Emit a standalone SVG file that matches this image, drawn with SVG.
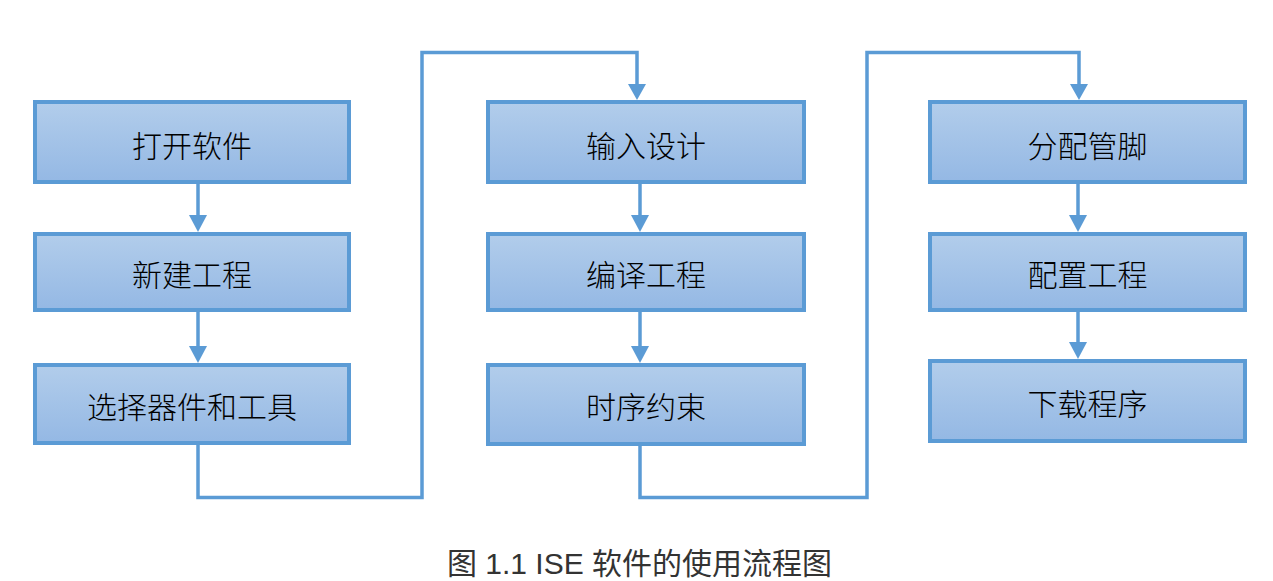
<svg xmlns="http://www.w3.org/2000/svg" width="1273" height="581" viewBox="0 0 1273 581">
  <defs>
    <linearGradient id="g" x1="0" y1="0" x2="0" y2="1">
      <stop offset="0" stop-color="#b2cdeb"/>
      <stop offset="1" stop-color="#94b8e4"/>
    </linearGradient>
    <style>
      .box { fill: url(#g); stroke: #5b9bd5; stroke-width: 4; }
      .lbl { font-family: "Noto Sans CJK SC", "Liberation Sans", sans-serif; font-size: 30px; font-weight: 300; fill: #000; text-anchor: middle; dominant-baseline: central; }
      .line { fill: none; stroke: #5b9bd5; stroke-width: 3.5; }
      .head { fill: #5b9bd5; }
      .cap { font-family: "Liberation Sans", "Noto Sans CJK SC", sans-serif; font-size: 30px; font-weight: 400; fill: #333; text-anchor: middle; dominant-baseline: central; }
    </style>
  </defs>
  <rect width="1273" height="581" fill="#fff"/>

  <g id="connectors">
    <path class="line" d="M198,184 V216"/>
    <polygon class="head" points="189,215 207,215 198,232"/>
    <path class="line" d="M198,312 V347"/>
    <polygon class="head" points="189,346 207,346 198,363"/>
    <path class="line" d="M640,184 V216"/>
    <polygon class="head" points="631,215 649,215 640,232"/>
    <path class="line" d="M640,312 V347"/>
    <polygon class="head" points="631,346 649,346 640,363"/>
    <path class="line" d="M1078,184 V216"/>
    <polygon class="head" points="1069,215 1087,215 1078,232"/>
    <path class="line" d="M1078,312 V343"/>
    <polygon class="head" points="1069,342 1087,342 1078,359"/>
    <path class="line" d="M198,445 V497.5 H422 V52.5 H637 V85"/>
    <polygon class="head" points="628,84 646,84 637,100"/>
    <path class="line" d="M640,446 V497.5 H867 V52.5 H1079 V85"/>
    <polygon class="head" points="1070,84 1088,84 1079,100"/>
  </g>

  <g id="n1"><rect class="box" x="35" y="102" width="314" height="80"/><text class="lbl" x="192" y="144">打开软件</text></g>
  <g id="n2"><rect class="box" x="35" y="234" width="314" height="76"/><text class="lbl" x="192" y="273">新建工程</text></g>
  <g id="n3"><rect class="box" x="35" y="365" width="314" height="78"/><text class="lbl" x="192" y="405">选择器件和工具</text></g>

  <g id="n4"><rect class="box" x="488" y="102" width="316" height="80"/><text class="lbl" x="646" y="144">输入设计</text></g>
  <g id="n5"><rect class="box" x="488" y="234" width="316" height="76"/><text class="lbl" x="646" y="273">编译工程</text></g>
  <g id="n6"><rect class="box" x="488" y="365" width="316" height="79"/><text class="lbl" x="646" y="405">时序约束</text></g>

  <g id="n7"><rect class="box" x="930" y="102" width="315" height="80"/><text class="lbl" x="1087.5" y="144">分配管脚</text></g>
  <g id="n8"><rect class="box" x="930" y="234" width="315" height="76"/><text class="lbl" x="1087.5" y="273">配置工程</text></g>
  <g id="n9"><rect class="box" x="930" y="361" width="315" height="80"/><text class="lbl" x="1087.5" y="402">下载程序</text></g>

  <text class="cap" x="639.5" y="563">图 1.1 ISE 软件的使用流程图</text>
</svg>
